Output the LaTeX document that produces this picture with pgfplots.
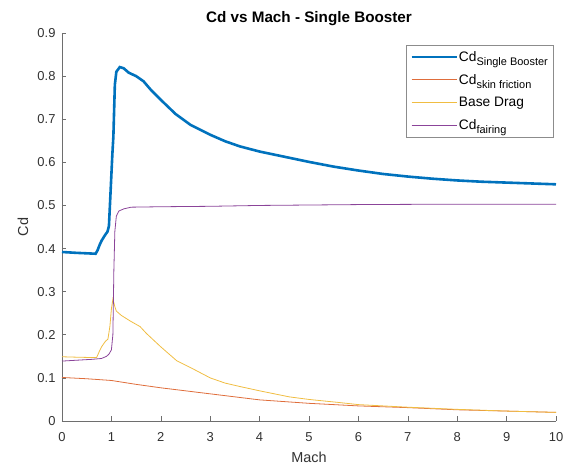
\documentclass[border=0pt]{standalone}
\usepackage{pgfplots}
\pgfplotsset{compat=1.18}
\usepackage{fontspec}
\setmainfont{Liberation Sans}

\definecolor{mlblue}{RGB}{0,114,189}
\definecolor{mlred}{RGB}{217,83,25}
\definecolor{mlyellow}{RGB}{237,177,32}
\definecolor{mlpurple}{RGB}{126,47,142}
\definecolor{axgray}{RGB}{110,110,110}
\definecolor{txtgray}{RGB}{50,50,50}

\newcommand{\sub}[1]{\raisebox{-0.55ex}{\fontsize{11}{12}\selectfont #1}}

\begin{document}
\begin{tikzpicture}
\useasboundingbox (-62bp,-47bp) rectangle (501bp,421bp);
\begin{axis}[
  at={(0,0)}, anchor=south west,
  scale only axis, width=494bp, height=388bp,
  xmin=0, xmax=10, ymin=0, ymax=0.9,
  axis x line=bottom, axis y line=left,
  axis line style={-, draw=axgray, line width=0.6bp},
  tick align=inside, major tick length=4.5bp,
  tick style={draw=axgray, line width=0.6bp},
  xtick={0,1,2,3,4,5,6,7,8,9,10},
  ytick={0,0.1,0.2,0.3,0.4,0.5,0.6,0.7,0.8,0.9},
  /pgf/number format/assume math mode=true,
  yticklabel style={/pgf/number format/fixed, /pgf/number format/precision=1, xshift=-3bp},
  xticklabel style={yshift=-8bp},
  tick label style={font=\fontsize{13}{15}\selectfont, text=txtgray},
  xlabel={Mach}, ylabel={Cd},
  label style={font=\fontsize{14.5}{16}\selectfont, text=txtgray},
  xlabel style={at={(axis description cs:0.5,0)}, anchor=base, yshift=-41bp},
  ylabel style={at={(axis description cs:-0.079,0.5)}, anchor=center},
  title={Cd vs Mach - Single Booster},
  title style={font=\bfseries\fontsize{15.3}{17}\selectfont, at={(axis description cs:0.5,1)}, anchor=base, yshift=5bp},
  legend style={at={(0.994,0.969)}, anchor=north east, draw=black!45, fill=white,
    font=\fontsize{13.8}{15}\selectfont, row sep=7.5bp, inner xsep=4bp, inner ysep=4bp,
    nodes={inner xsep=1bp}},
  legend cell align=left,
  legend image code/.code={\draw[#1] (0bp,0bp) -- (45bp,0bp);},
]
% total drag coefficient of the single booster
\addplot[mlblue, line width=2.6bp] coordinates {
(0,0.392)(0.3,0.390)(0.68,0.388)(0.72,0.396)(0.76,0.408)(0.8,0.418)(0.87,0.431)
(0.92,0.439)(0.95,0.452)(0.985,0.536)(1.02,0.62)(1.04,0.66)(1.07,0.78)(1.1,0.81)
(1.17,0.821)(1.25,0.818)(1.35,0.808)(1.5,0.800)(1.65,0.788)(1.8,0.768)(2.0,0.745)
(2.3,0.712)(2.6,0.687)(3.0,0.664)(3.3,0.649)(3.6,0.637)(4.0,0.625)(4.5,0.613)
(5.0,0.601)(5.5,0.590)(6.0,0.581)(6.5,0.573)(7.0,0.567)(7.5,0.562)(8.0,0.558)
(8.5,0.555)(9.0,0.553)(9.5,0.551)(10,0.549)};
\addlegendentry{Cd\sub{Single Booster}\hspace{10bp}}
% skin friction component
\addplot[mlred!85!white, line width=0.8bp] coordinates {
(0,0.101)(0.5,0.098)(1.0,0.094)(1.5,0.085)(2.0,0.077)(2.5,0.070)(3.0,0.063)
(3.5,0.056)(4.0,0.049)(4.5,0.045)(5.0,0.041)(5.5,0.038)(6.0,0.035)(7.0,0.031)
(8.0,0.026)(9.0,0.023)(10,0.020)};
\addlegendentry{Cd\sub{skin friction}}
% base drag component
\addplot[mlyellow!85!white, line width=0.8bp] coordinates {
(0,0.149)(0.3,0.148)(0.7,0.147)(0.75,0.160)(0.8,0.172)(0.88,0.185)(0.93,0.190)
(0.97,0.220)(1.0,0.260)(1.03,0.283)(1.07,0.265)(1.1,0.255)(1.2,0.245)(1.38,0.232)
(1.58,0.219)(1.71,0.203)(1.85,0.188)(2.0,0.172)(2.32,0.140)(2.6,0.124)(3.0,0.100)
(3.3,0.088)(3.6,0.080)(4.0,0.070)(4.6,0.056)(5.0,0.050)(5.6,0.043)(6.0,0.038)
(6.5,0.035)(7.0,0.032)(8.0,0.027)(9.0,0.023)(10,0.020)};
\addlegendentry{Base Drag}
% fairing component
\addplot[mlpurple!90!white, line width=0.8bp] coordinates {
(0,0.139)(0.3,0.141)(0.6,0.143)(0.8,0.145)(0.9,0.150)(0.95,0.155)(1.0,0.165)
(1.03,0.200)(1.05,0.350)(1.07,0.440)(1.1,0.475)(1.15,0.487)(1.25,0.492)(1.4,0.496)
(2.0,0.497)(3.0,0.498)(4.0,0.500)(5.0,0.501)(6.0,0.502)(8.0,0.503)(10,0.503)};
\addlegendentry{Cd\sub{fairing}}
\end{axis}
\end{tikzpicture}
\end{document}
